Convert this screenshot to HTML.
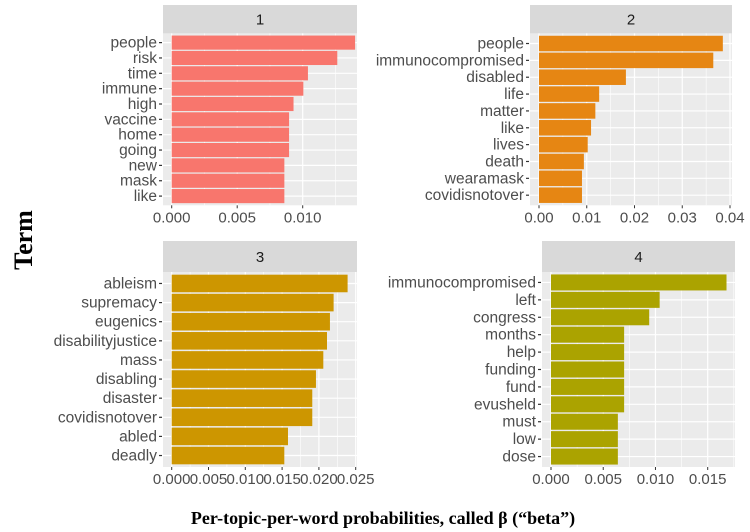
<!DOCTYPE html>
<html><head><meta charset="utf-8"><style>
body{margin:0;background:#fff;}
svg{display:block;font-family:"Liberation Sans",sans-serif;}
</style></head><body>
<svg id="c" width="750" height="532" viewBox="0 0 750 532" xmlns="http://www.w3.org/2000/svg">
<text x="32" y="240" transform="rotate(-90 32 240)" text-anchor="middle" font-family="Liberation Serif,serif" font-weight="bold" font-size="26" fill="#000">Term</text>
<text x="383" y="524" text-anchor="middle" font-family="Liberation Serif,serif" font-weight="bold" font-size="18" fill="#000">Per-topic-per-word probabilities, called β (“beta”)</text>
</svg>
<script>
const terms1=["people","risk","time","immune","high","vaccine","home","going","new","mask","like"];
const values1=[0.0140,0.01264,0.0104,0.01005,0.0093,0.00896,0.00896,0.00896,0.0086,0.0086,0.0086];
const terms2=["people","immunocompromised","disabled","life","matter","like","lives","death","wearamask","covidisnotover"];
const values2=[0.0385,0.0365,0.0182,0.0126,0.0118,0.0109,0.0102,0.0094,0.0090,0.0090];
const terms3=["ableism","supremacy","eugenics","disabilityjustice","mass","disabling","disaster","covidisnotover","abled","deadly"];
const values3=[0.0239,0.0220,0.0215,0.0211,0.0206,0.0196,0.0191,0.0191,0.0158,0.0153];
const terms4=["immunocompromised","left","congress","months","help","funding","fund","evusheld","must","low","dose"];
const values4=[0.0168,0.0104,0.0094,0.0070,0.0070,0.0070,0.0070,0.0070,0.0064,0.0064,0.0064];
const ticks1=["0.000","0.005","0.010"];
const tickVals1=[0,0.005,0.010];
const ticks2=["0.00","0.01","0.02","0.03","0.04"];
const tickVals2=[0,0.01,0.02,0.03,0.04];
const ticks3=["0.000","0.005","0.010","0.015","0.020","0.025"];
const tickVals3=[0,0.005,0.010,0.015,0.020,0.025];
const ticks4=["0.000","0.005","0.010","0.015"];
const tickVals4=[0,0.005,0.010,0.015];

const NS="http://www.w3.org/2000/svg";
const svg=document.getElementById('c');
function mk(tag,attrs,parent){const e=document.createElementNS(NS,tag);for(const k in attrs)e.setAttribute(k,attrs[k]);(parent||svg).appendChild(e);return e;}

const panels=[
 {id:1,terms:terms1,vals:values1,ticks:ticks1,tv:tickVals1,color:"#F8766D",x0:163,x1:357,y0:33.4,y1:205.3,sy0:5,zero:171.7,px:0.005,ppx:65.5},
 {id:2,terms:terms2,vals:values2,ticks:ticks2,tv:tickVals2,color:"#E68613",x0:530,x1:732,y0:33.4,y1:205.3,sy0:5,zero:539,px:0.04,ppx:191},
 {id:3,terms:terms3,vals:values3,ticks:ticks3,tv:tickVals3,color:"#CD9600",x0:163,x1:357,y0:272,y1:467,sy0:241,zero:171.7,px:0.025,ppx:184},
 {id:4,terms:terms4,vals:values4,ticks:ticks4,tv:tickVals4,color:"#ABA300",x0:542,x1:735,y0:272,y1:467,sy0:241,zero:551,px:0.015,ppx:156.7}
];
panels.forEach(p=>{
 const g=mk('g',{});
 
 
 const xs=v=>p.zero+v*p.ppx/p.px;
 const n=p.terms.length;
 const slot=(p.y1-p.y0)/(n-1+1.2);
 const yc=i=>p.y0+(0.6+i)*slot;
 const strip=mk('rect',{x:p.x0,y:p.sy0,width:p.x1-p.x0,height:p.y0-p.sy0,fill:"#D9D9D9"},g);
 
 
 const st=mk('text',{x:(p.x0+p.x1)/2,y:p.sy0+(p.y0-p.sy0)/2+5.5,'text-anchor':'middle','font-size':15,fill:'#1A1A1A'},g);
 st.textContent=p.id;
 
 
 mk('rect',{x:p.x0,y:p.y0,width:p.x1-p.x0,height:p.y1-p.y0,fill:"#EBEBEB"},g);
 for(let i=0;i<p.tv.length;i++){
  const mv=p.tv[i]+(p.tv[1]-p.tv[0])/2;const mx=xs(mv);
  if(mx<p.x1)mk('line',{x1:mx,x2:mx,y1:p.y0,y2:p.y1,stroke:'#fff','stroke-width':0.6},g);
 }
 p.tv.forEach((v,i)=>{const x=xs(v);
  mk('line',{x1:x,x2:x,y1:p.y0,y2:p.y1,stroke:'#fff','stroke-width':1.2},g);
  mk('line',{x1:x,x2:x,y1:p.y1,y2:p.y1+3,stroke:'#333','stroke-width':1},g);
  const t=mk('text',{x:x,y:p.y1+17,'text-anchor':'middle','font-size':15,fill:'#4D4D4D'},g);
  t.textContent=p.ticks[i];
  
  
 });
 p.terms.forEach((term,i)=>{const y=yc(i);
  mk('line',{x1:p.x0,x2:p.x1,y1:y,y2:y,stroke:'#fff','stroke-width':1.2},g);
 });
 p.terms.forEach((term,i)=>{const y=yc(i);
  const b=mk('rect',{x:xs(0),y:y-0.46*slot,width:xs(p.vals[i])-xs(0),height:0.92*slot,fill:p.color},g);
  
  
  mk('line',{x1:p.x0-4,x2:p.x0-1,y1:y,y2:y,stroke:'#333','stroke-width':1.2},g);
  const t=mk('text',{x:p.x0-6,y:y+5,'text-anchor':'end','font-size':15.5,fill:'#4D4D4D'},g);
  t.textContent=term;
  
  
 });
});
</script>
</body></html>
